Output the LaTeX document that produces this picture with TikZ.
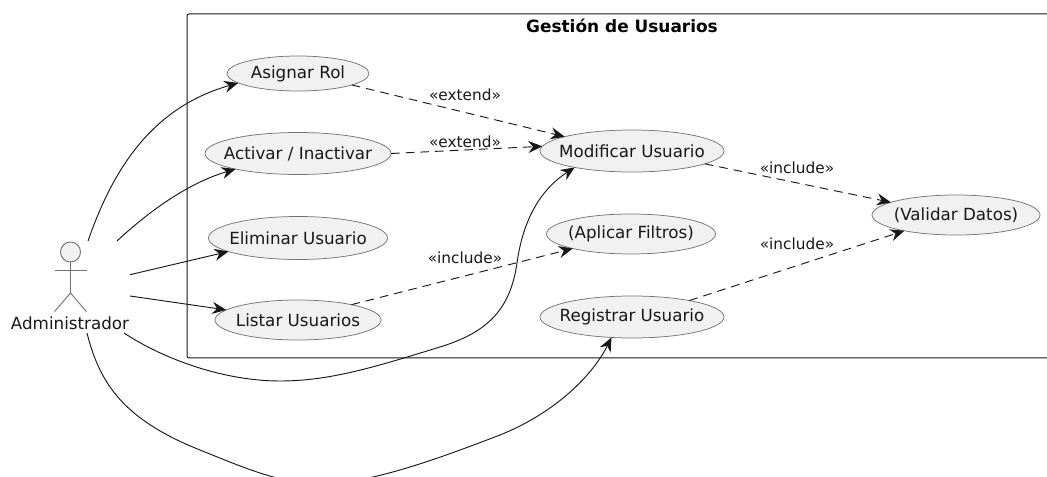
\documentclass[tikz,border=0pt]{standalone}
\usepackage{fontspec}
\setmainfont{DejaVu Sans}
\usetikzlibrary{shapes.geometric,arrows.meta}
\definecolor{ink}{HTML}{181818}
\definecolor{ucfill}{HTML}{F1F1F1}
\tikzset{
  ucase/.style 2 args={ellipse,draw=black!55,line width=0.55pt,fill=ucfill,inner sep=0pt,outer sep=0pt,text=ink,font=\fontsize{12.55pt}{14pt}\selectfont,minimum width=0.75*#1pt,minimum height=0.75*#2pt},
  lab/.style={inner sep=0pt,text=ink,font=\fontsize{11.5pt}{13pt}\selectfont},
  tipx/.tip={Stealth[length=10.5pt,width=9pt,inset=3.5pt]},
  solidedge/.style={draw=ink,line width=0.7pt,-{tipx}},
  dashedge/.style={draw=ink,line width=0.7pt,-{tipx},dash pattern=on 6.5pt off 4.5pt},
  actorline/.style={draw=black!55,line width=0.7pt}
}
\begin{document}
\begin{tikzpicture}[x=0.75pt,y=-0.75pt]
\useasboundingbox (0,0) rectangle (1047,477);
\clip (0,0) rectangle (1047,477);
\fill[white] (0,0) rectangle (1047,477);
% frame
\draw[ink,line width=0.75pt,rounded corners=1.5pt] (1060,14) -- (187,14) -- (187,358) -- (1060,358);
\node[inner sep=0pt,text=black,font=\fontsize{12.7pt}{15pt}\selectfont\bfseries] (title) at (622,26) {Gestión de Usuarios};
% use cases
\node[ucase={142}{35}] (asignar) at (298,73.5) {\makebox[0pt]{Asignar Rol}};
\node[ucase={186}{42}] (activar) at (298,153.5) {\makebox[0pt]{Activar / Inactivar}};
\node[ucase={179}{43}] (eliminar) at (298,238) {\makebox[0pt]{Eliminar Usuario}};
\node[ucase={166}{40}] (listar) at (298,320) {\makebox[0pt]{Listar Usuarios}};
\node[ucase={184}{42}] (modificar) at (632,151) {\makebox[0pt]{Modificar Usuario}};
\node[ucase={169}{40}] (aplicar) at (631,234) {\makebox[0pt]{(Aplicar Filtros)}};
\node[ucase={184}{42}] (registrar) at (632,317) {\makebox[0pt]{Registrar Usuario}};
\node[ucase={168}{40}] (validar) at (956,215) {\makebox[0pt]{(Validar Datos)}};
% actor
\node[circle,draw=black!55,fill=ucfill,line width=0.7pt,minimum size=15pt,inner sep=0pt,outer sep=0pt] (actor) at (70.5,252) {};
\node[inner sep=0pt,text=ink,font=\fontsize{12.55pt}{14pt}\selectfont] (adminlabel) at (70,323) {Administrador};
\coordinate (hip) at (70.5,293);
\coordinate (armL) at (54.5,270.7);
\coordinate (armR) at (86.5,270.7);
\coordinate (footL) at (54.5,311.7);
\coordinate (footR) at (86.5,311.7);
\draw[actorline] (actor.south) -- (hip) -- (footL);
\draw[actorline] (hip) -- (footR);
\draw[actorline] (armL) -- (armR);
% connector start points around the actor
\coordinate (a1) at (88,241);
\coordinate (a2) at (117,241);
\coordinate (a3) at (130,274.7);
\coordinate (a4) at (130,296);
\coordinate (a5) at (124,333);
\coordinate (a6) at (87,333);
% solid edges
\draw[solidedge] (a1) .. controls (112,172) and (150,108) .. (asignar.189);
\draw[solidedge] (a2) .. controls (145,215) and (185,184) .. (activar.194);
\draw[solidedge] (a3) -- (eliminar.191);
\draw[solidedge] (a4) -- (listar.172);
\draw[solidedge] (a5) .. controls (165,360) and (225,381) .. (280,381)
  .. controls (330,381) and (375,367) .. (440,347)
  .. controls (485,333) and (510,312) .. (517,263)
  .. controls (523,220) and (540,190) .. (modificar.196.6);
\draw[solidedge] (a6) .. controls (100,385) and (125,420) .. (200,450)
  .. controls (240,466) and (280,484) .. (320,484)
  .. controls (370,484) and (440,458) .. (500,435)
  .. controls (550,415) and (590,380) .. (registrar.225);
% dashed edges
\draw[dashedge] (asignar.-12) -- (modificar.168);
\draw[dashedge] (activar.east) -- (modificar.177);
\draw[dashedge] (modificar.-10.9) -- (validar.169.5);
\draw[dashedge] (listar.16) -- (aplicar.194.7);
\draw[dashedge] (registrar.16.9) -- (validar.197);
% labels
\node[lab] (l1) at (465,95) {«extend»};
\node[lab] (l2) at (465,142) {«extend»};
\node[lab] (l3) at (465,258) {«include»};
\node[lab] (l4) at (797,168) {«include»};
\node[lab] (l5) at (797,244) {«include»};
\end{tikzpicture}
\end{document}
